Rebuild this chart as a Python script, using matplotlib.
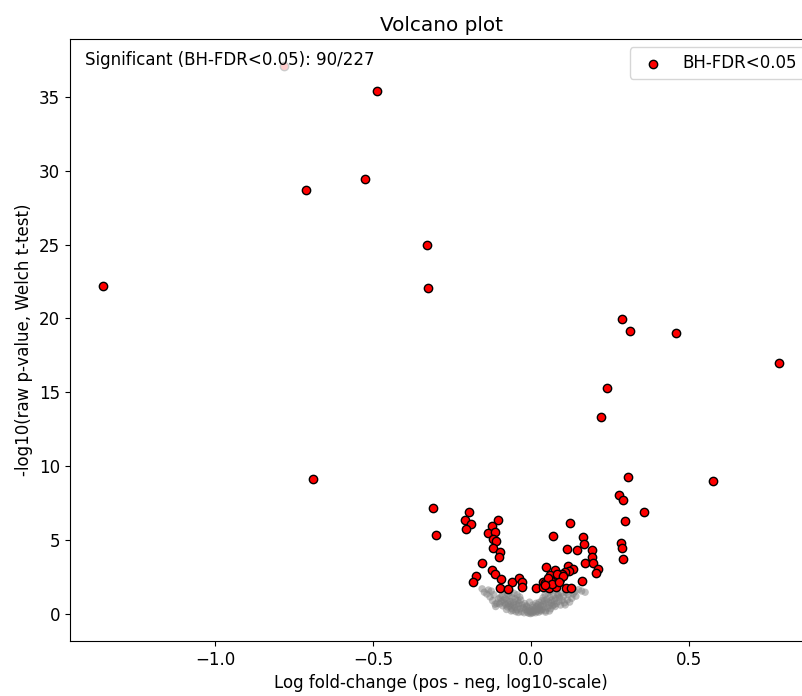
import matplotlib
matplotlib.use("Agg")
import matplotlib.pyplot as plt

# significant genes (BH-FDR < 0.05): log fold-change and -log10 p
sig_lfc = [
    -0.782, -0.486, -0.525, -0.711, -0.330, -0.325, -1.353,
    0.288, 0.313, 0.459, 0.783, 0.240, 0.222, 0.308, 0.576, 0.278, 0.290,
    -0.689, -0.309, -0.300,
    -0.196, -0.209, -0.190, -0.206, -0.104, -0.123, -0.137, -0.115, -0.121,
    -0.111, -0.122, -0.098, -0.103, -0.156, -0.175, -0.184, -0.124, -0.113,
    -0.094, -0.059, -0.037, -0.030, -0.098, -0.074, -0.028, 0.016, 0.039,
    0.122, 0.069, 0.164, 0.167, 0.112, 0.146, 0.194, 0.194, 0.169, 0.196,
    0.213, 0.204, 0.162, 0.048, 0.076, 0.116, 0.132, 0.121, 0.108, 0.098,
    0.086, 0.071, 0.059, 0.092, 0.076, 0.063, 0.043, 0.037, 0.058, 0.078,
    0.110, 0.127, 0.357, 0.297, 0.284, 0.289, 0.290,
    0.052, 0.082, 0.100, 0.065, 0.088, 0.045,
]
sig_logp = [
    37.06, 35.36, 29.43, 28.71, 24.94, 22.07, 22.19,
    19.93, 19.16, 18.98, 16.97, 15.28, 13.32, 9.25, 9.03, 8.06, 7.70,
    9.14, 7.20, 5.35,
    6.88, 6.36, 6.07, 5.78, 6.36, 5.96, 5.50, 5.53, 5.10,
    4.96, 4.47, 4.18, 3.88, 3.43, 2.59, 2.17, 2.98, 2.71,
    2.37, 2.19, 2.44, 2.19, 1.74, 1.71, 1.85, 1.76, 2.19,
    6.18, 5.28, 5.24, 4.72, 4.38, 4.33, 4.31, 3.88, 3.43, 3.48,
    3.05, 2.75, 2.23, 3.20, 2.98, 3.27, 3.05, 2.93, 2.86, 2.71,
    2.62, 2.53, 2.64, 2.39, 2.30, 2.25, 2.12, 1.81, 1.74, 1.81,
    1.76, 1.74, 6.88, 6.28, 4.83, 4.49, 3.70,
    2.45, 2.70, 2.55, 2.05, 2.15, 1.95,
]

# non-significant genes
ns_lfc = [
    -0.030, -0.025, -0.022, -0.018, -0.015, -0.012, -0.010, -0.008, -0.006, -0.004,
    -0.002, 0.000, 0.002, 0.004, 0.006, 0.008, 0.010, 0.012, 0.014, 0.016,
    0.018, 0.020, 0.022, 0.024, 0.026, 0.028, 0.030, -0.028, -0.020, -0.014,
    0.005, 0.015, -0.005, 0.025, 0.032,
    -0.035, -0.038, -0.040, -0.042, -0.045, -0.047, -0.050, -0.052, -0.055, -0.057,
    -0.060, -0.062, -0.064, -0.066, -0.068, -0.070, -0.072, -0.075, -0.077, -0.080,
    -0.082, -0.085, -0.088, -0.090, -0.092, -0.095, -0.098, -0.100, -0.048, -0.058,
    -0.033, -0.036, -0.044, -0.054, -0.066, -0.074, -0.086, -0.078, -0.040, -0.063,
    -0.103, -0.108, -0.114, -0.118, -0.122, -0.126, -0.130, -0.135, -0.140, -0.148,
    -0.112, -0.155,
    0.035, 0.037, 0.040, 0.042, 0.045, 0.047, 0.050, 0.052, 0.055, 0.057,
    0.060, 0.062, 0.064, 0.066, 0.068, 0.070, 0.072, 0.074, 0.076, 0.078,
    0.080, 0.083, 0.086, 0.088, 0.090, 0.093, 0.096, 0.099, 0.038, 0.044,
    0.054, 0.063, 0.046, 0.058, 0.034,
    0.102, 0.105, 0.108, 0.112, 0.115, 0.118, 0.122, 0.125, 0.129, 0.133,
    0.138, 0.142, 0.150, 0.160, 0.171,
]
ns_logp = [
    0.15, 0.42, 0.08, 0.30, 0.55, 0.12, 0.25, 0.05, 0.38, 0.18,
    0.02, 0.10, 0.28, 0.06, 0.45, 0.15, 0.22, 0.35, 0.08, 0.50,
    0.18, 0.30, 0.62, 0.12, 0.40, 0.25, 0.55, 0.60, 0.70, 0.48,
    0.60, 0.72, 0.80, 0.78, 0.20,
    0.35, 0.72, 0.55, 0.90, 0.28, 0.65, 1.02, 0.45, 0.80, 0.60,
    1.10, 0.38, 0.66, 0.85, 0.52, 1.20, 0.70, 0.48, 0.95, 0.62,
    1.05, 0.75, 0.95, 0.55, 1.25, 0.82, 1.10, 0.68, 0.15, 0.25,
    0.95, 1.15, 1.30, 1.40, 1.55, 1.35, 1.50, 0.30, 0.10, 0.20,
    1.02, 0.72, 0.66, 1.30, 0.90, 1.55, 1.15, 1.62, 1.35, 1.47,
    0.50, 1.70,
    0.30, 0.65, 0.48, 0.88, 0.22, 0.70, 1.00, 0.40, 0.82, 0.58,
    1.12, 0.35, 0.75, 0.95, 0.55, 1.25, 0.62, 0.88, 0.50, 1.05,
    0.70, 1.30, 1.29, 0.85, 1.10, 0.60, 1.40, 0.92, 1.10, 1.30,
    1.45, 1.55, 0.12, 0.20, 0.90,
    1.20, 0.75, 0.61, 1.45, 0.95, 1.30, 0.80, 1.60, 1.06, 1.35,
    1.50, 1.20, 1.65, 1.55, 1.47,
]

n_sig = len(sig_lfc)
n_total = len(sig_lfc) + len(ns_lfc)

plt.rcParams["font.size"] = 12

fig = plt.figure(figsize=(8.02, 6.96), dpi=100)
# the right spine sits just past the image edge, like the reference crop
ax = fig.add_axes([0.0869, 0.079, 0.926, 0.865])

ax.scatter(ns_lfc, ns_logp, s=28, color="grey", alpha=0.5, edgecolors="none")
ax.scatter(sig_lfc, sig_logp, s=36, color="red", edgecolors="black",
           linewidths=1, label="BH-FDR<0.05")

ax.set_xlabel("Log fold-change (pos - neg, log10-scale)")
ax.set_ylabel("-log10(raw p-value, Welch t-test)")
ax.set_title("Volcano plot")
ax.legend(loc="upper right")
ax.text(0.02, 0.98, f"Significant (BH-FDR<0.05): {n_sig}/{n_total}",
        transform=ax.transAxes, va="top", ha="left",
        bbox=dict(facecolor="white", alpha=0.8, edgecolor="none"))

fig.savefig("out.png", dpi=100)
